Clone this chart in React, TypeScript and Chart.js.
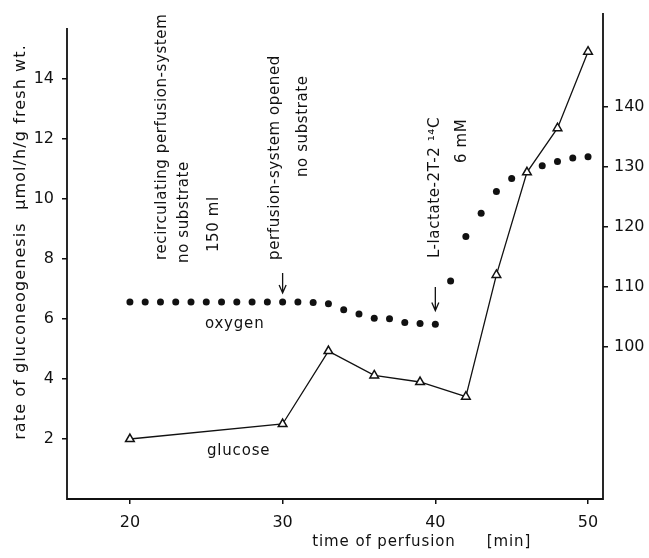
import React, { useEffect, useRef } from "react";
import { Chart, registerables } from "chart.js";

Chart.register(...registerables);

// ---- data ----
const glucoseTime = [20, 30, 33, 36, 39, 42, 44, 46, 48, 50];
const glucoseRate = [2.0, 2.5, 4.93, 4.12, 3.9, 3.41, 7.47, 10.89, 12.36, 14.91];

const oxygenTime = [20, 21, 22, 23, 24, 25, 26, 27, 28, 29, 30, 31, 32, 33, 34, 35, 36, 37, 38, 39, 40, 41, 42, 43, 44, 45, 47, 48, 49, 50];
const oxygenValue = [107.5, 107.5, 107.5, 107.5, 107.5, 107.5, 107.5, 107.5, 107.5, 107.5, 107.5, 107.5, 107.4, 107.2, 106.2, 105.5, 104.8, 104.7, 104.1, 103.9, 103.8, 111.0, 118.4, 122.3, 125.9, 128.1, 130.2, 130.9, 131.5, 131.7];

const xTicks = [20, 30, 40, 50];
const leftTicks = [2, 4, 6, 8, 10, 12, 14];
const rightTicks = [100, 110, 120, 130, 140];

const xTitle = "time of perfusion";
const xUnit = "[min]";
const yTitle = "rate of gluconeogenesis  \u00b5mol/h/g fresh wt.";

// vertical notes: text, time (min), left-axis value where text starts
const verticalNotes = [
  { text: "recirculating perfusion-system", t: 22.12, v: 7.97 },
  { text: "no substrate", t: 23.53, v: 7.87 },
  { text: "150 ml", t: 25.49, v: 8.23 },
  { text: "perfusion-system opened", t: 29.54, v: 7.97 },
  { text: "no substrate", t: 31.37, v: 10.73 },
  { text: "L-lactate-2T-2 \u00b9\u2074C", t: 40.0, v: 8.03 },
  { text: "6 mM", t: 41.73, v: 11.2 },
];
const seriesLabels = [
  { text: "oxygen", t: 26.86, v: 5.83 },
  { text: "glucose", t: 27.12, v: 1.6 },
];
const arrows = [
  { t: 30, from: 7.53, to: 6.87 },
  { t: 40, from: 7.07, to: 6.28 },
];

const FONT = "'DejaVu Sans', sans-serif";
const INK = "#111";

const overlay = {
  id: "overlay",
  afterDraw(chart: any) {
    const { ctx, chartArea } = chart;
    const xs = chart.scales.x;
    const ys = chart.scales.y;
    ctx.save();
    ctx.strokeStyle = INK;
    ctx.fillStyle = INK;
    ctx.lineWidth = 1.8;
    ctx.lineCap = "butt";
    // axes
    ctx.beginPath();
    ctx.moveTo(chartArea.left, ys.getPixelForValue(15.7));
    ctx.lineTo(chartArea.left, chartArea.bottom);
    ctx.lineTo(chartArea.right, chartArea.bottom);
    ctx.lineTo(chartArea.right, chartArea.top);
    ctx.stroke();

    // vertical notes
    ctx.font = `15px ${FONT}`;
    ctx.letterSpacing = "0.6px";
    for (const n of verticalNotes) {
      const px = xs.getPixelForValue(n.t);
      const py = ys.getPixelForValue(n.v);
      ctx.save();
      ctx.translate(px, py);
      ctx.rotate(-Math.PI / 2);
      ctx.textAlign = "left";
      ctx.textBaseline = "middle";
      ctx.fillText(n.text, 0, 0);
      ctx.restore();
    }
    // series labels
    ctx.letterSpacing = "0.8px";
    ctx.textAlign = "center";
    ctx.textBaseline = "middle";
    for (const l of seriesLabels) {
      ctx.fillText(l.text, xs.getPixelForValue(l.t), ys.getPixelForValue(l.v));
    }
    ctx.letterSpacing = "0px";
    // arrows
    ctx.lineWidth = 1.3;
    for (const a of arrows) {
      const px = xs.getPixelForValue(a.t);
      const y0 = ys.getPixelForValue(a.from);
      const y1 = ys.getPixelForValue(a.to);
      ctx.beginPath();
      ctx.moveTo(px, y0);
      ctx.lineTo(px, y1);
      ctx.moveTo(px - 3.5, y1 - 8);
      ctx.lineTo(px, y1);
      ctx.lineTo(px + 3.5, y1 - 8);
      ctx.stroke();
    }
    // axis titles
    ctx.font = `15px ${FONT}`;
    ctx.letterSpacing = "0.9px";
    ctx.textAlign = "center";
    ctx.textBaseline = "middle";
    ctx.fillText(xTitle, 384, 542);
    ctx.fillText(xUnit, 509, 542);
    ctx.font = `16px ${FONT}`;
    ctx.letterSpacing = "1.1px";
    ctx.save();
    ctx.translate(21, 242);
    ctx.rotate(-Math.PI / 2);
    ctx.fillText(yTitle, 0, 0);
    ctx.restore();
    ctx.letterSpacing = "0px";
    ctx.restore();
  },
};

const tickGrid = {
  display: true,
  drawOnChartArea: false,
  drawTicks: true,
  tickLength: 5,
  color: INK,
  lineWidth: 1.5,
};

const clearPad = (s: any) => {
  s.paddingTop = 0;
  s.paddingBottom = 0;
  s.paddingLeft = 0;
  s.paddingRight = 0;
};

export default function App() {
  const ref = useRef<HTMLCanvasElement | null>(null);
  useEffect(() => {
    document.body.style.margin = "0";
    const canvas = ref.current;
    if (!canvas) return;
    const chart = new Chart(canvas, {
      type: "line",
      data: {
        datasets: [
          {
            label: "glucose",
            data: glucoseTime.map((t, i) => ({ x: t, y: glucoseRate[i] })),
            yAxisID: "y",
            borderColor: INK,
            borderWidth: 1.3,
            backgroundColor: "#fff",
            pointStyle: "triangle",
            pointRadius: 5,
            pointBorderWidth: 1.5,
            pointBorderColor: INK,
            pointBackgroundColor: "#fff",
            tension: 0,
            order: 0,
          },
          {
            label: "oxygen",
            data: oxygenTime.map((t, i) => ({ x: t, y: oxygenValue[i] })),
            yAxisID: "y2",
            showLine: false,
            pointStyle: "circle",
            pointRadius: 3.5,
            pointBorderWidth: 0,
            pointBackgroundColor: INK,
            borderColor: INK,
            order: 1,
          },
        ],
      },
      options: {
        animation: false,
        responsive: false,
        devicePixelRatio: 1,
        layout: { padding: { top: 13, left: 0, right: 0, bottom: 0 } },
        plugins: { legend: { display: false }, tooltip: { enabled: false } },
        scales: {
          x: {
            type: "linear",
            position: "bottom",
            min: 15.88,
            max: 50.98,
            afterBuildTicks: (s: any) => { s.ticks = xTicks.map((v) => ({ value: v })); },
            afterFit: (s: any) => { s.height = 59; clearPad(s); },
            grid: tickGrid,
            border: { display: false },
            ticks: { font: { size: 16, family: FONT }, color: INK, padding: 9, maxRotation: 0, autoSkip: false },
          },
          y: {
            type: "linear",
            position: "left",
            min: 0,
            max: 16.2,
            afterBuildTicks: (s: any) => { s.ticks = leftTicks.map((v) => ({ value: v })); },
            afterFit: (s: any) => { s.width = 67; clearPad(s); },
            grid: tickGrid,
            border: { display: false },
            ticks: { font: { size: 16, family: FONT }, color: INK, padding: 8, autoSkip: false },
          },
          y2: {
            type: "linear",
            position: "right",
            min: 74.67,
            max: 155.67,
            afterBuildTicks: (s: any) => { s.ticks = rightTicks.map((v) => ({ value: v })); },
            afterFit: (s: any) => { s.width = 46; clearPad(s); },
            grid: tickGrid,
            border: { display: false },
            ticks: { font: { size: 16, family: FONT }, color: INK, padding: 6, autoSkip: false },
          },
        },
      },
      plugins: [overlay],
    } as any);
    return () => chart.destroy();
  }, []);
  return (
    <div style={{ position: "absolute", left: 0, top: 0, width: 649, height: 558, background: "#fff" }}>
      <canvas ref={ref} width={649} height={558} />
    </div>
  );
}
